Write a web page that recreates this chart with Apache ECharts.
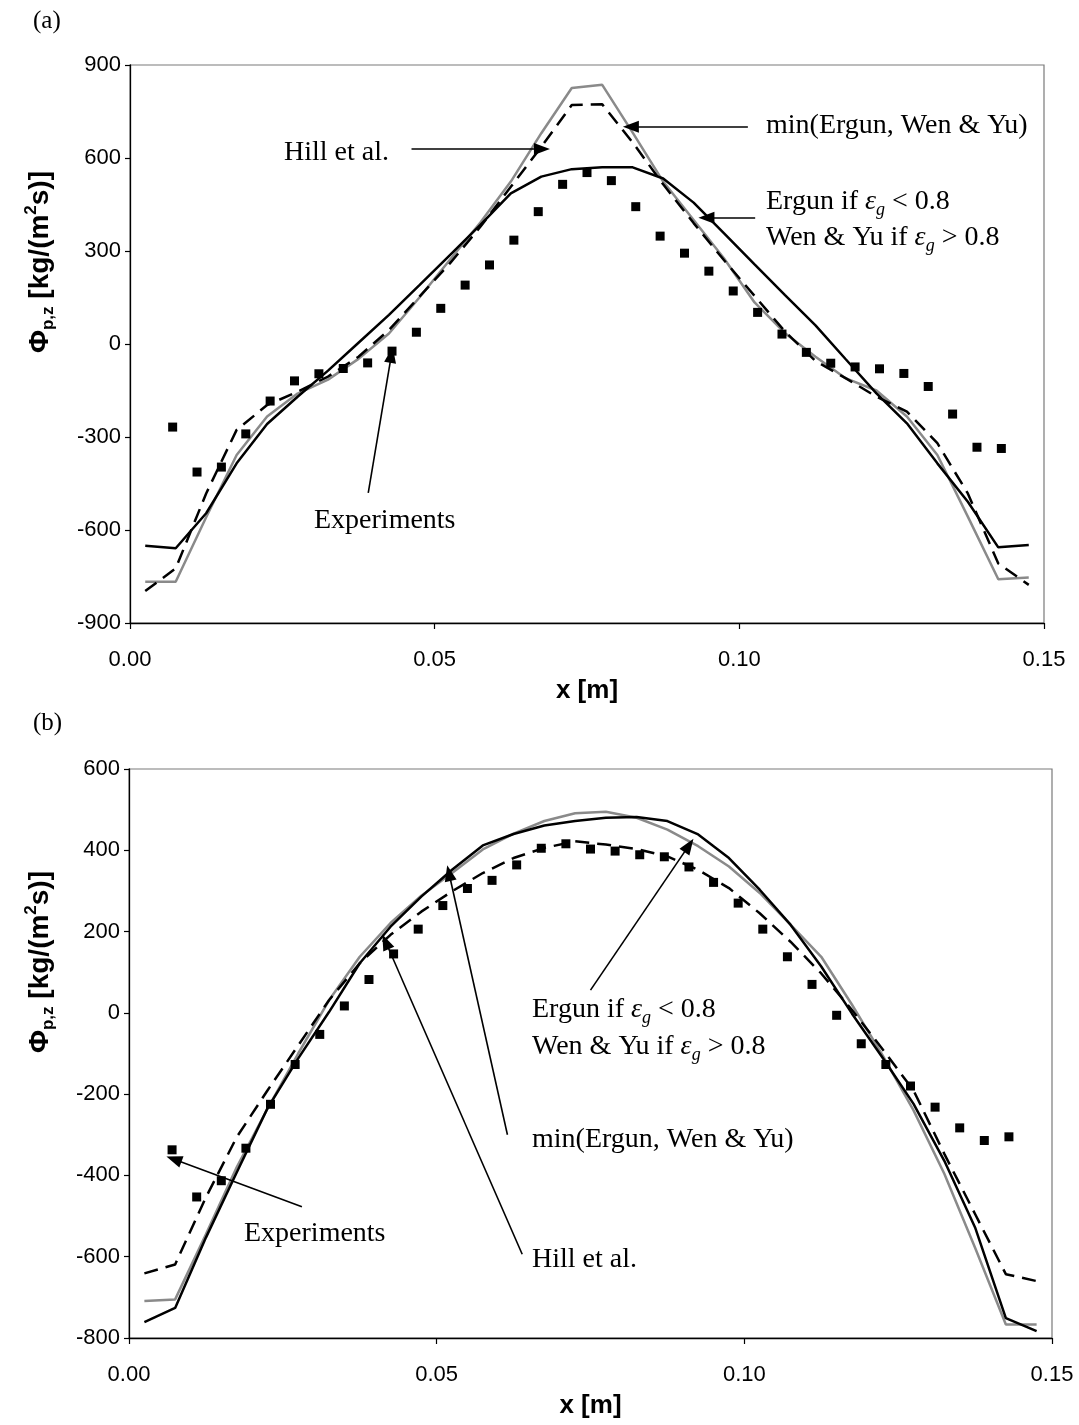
<!DOCTYPE html>
<html><head><meta charset="utf-8">
<script src="https://cdn.jsdelivr.net/npm/echarts@6/dist/echarts.min.js"></script>
<style>html,body{margin:0;padding:0;background:#fff}#c{width:1079px;height:1425px}</style>
</head><body><div id="c"></div>
<script>
// ---------- data ----------
const simX = [0.0025,0.0075,0.0125,0.0175,0.0225,0.0275,0.0325,0.0375,0.0425,0.0475,
  0.0525,0.0575,0.0625,0.0675,0.0725,0.0775,0.0825,0.0875,0.0925,0.0975,
  0.1025,0.1075,0.1125,0.1175,0.1225,0.1275,0.1325,0.1375,0.1425,0.1475];
const expX = [0.007,0.011,0.015,0.019,0.023,0.027,0.031,0.035,0.039,0.043,0.047,0.051,
  0.055,0.059,0.063,0.067,0.071,0.075,0.079,0.083,0.087,0.091,0.095,0.099,0.103,0.107,
  0.111,0.115,0.119,0.123,0.127,0.131,0.135,0.139,0.143];

// panel (a)
const switchA = [-651,-659,-546,-385,-258,-170,-86,4,94,190,287,384,486,540,564,
  570,570,534,456,357,257,158,60,-50,-159,-256,-385,-509,-656,-648];
const minA = [-767,-767,-559,-358,-234,-160,-115,-48,34,150,272,392,524,680,826,
  836,682,524,400,276,134,35,-41,-111,-150,-234,-358,-557,-759,-753];
const hillA = [-797,-724,-482,-277,-197,-154,-105,-41,45,153,260,378,507,636,771,
  773,650,515,390,270,155,40,-55,-111,-170,-218,-320,-482,-708,-777];
const expA = [-268,-413,-397,-290,-184,-119,-96,-79,-61,-23,38,115,190,255,335,427,515,553,
  527,443,348,293,235,171,102,32,-27,-62,-74,-80,-95,-137,-226,-333,-337];

// panel (b)
const switchB = [-761,-726,-553,-393,-235,-112,2,122,212,286,352,412,440,461,472,
  480,482,472,439,381,303,217,114,-2,-111,-224,-364,-528,-751,-783];
const minB = [-709,-705,-545,-380,-236,-100,31,138,221,288,344,402,441,472,491,
  495,480,451,410,360,295,217,138,20,-105,-240,-396,-578,-767,-767];
const hillB = [-641,-619,-454,-306,-191,-80,31,122,192,249,299,344,381,406,422,
  414,403,385,352,307,245,175,97,7,-90,-191,-347,-495,-643,-660];
const expB = [-337,-453,-413,-333,-225,-127,-53,17,82,145,206,264,306,326,364,405,416,403,
  398,389,384,359,321,270,206,138,70,-6,-76,-127,-180,-232,-283,-314,-305];

const xRange = [0, 0.15, 0.05];
const yRangeA = [-900, 900, 300];
const yRangeB = [-800, 600, 200];

// annotation arrows (data coordinates): [x1,y1,x2,y2], arrow head at second point
const arrowsA = [[0.0462,629,0.0676,629],[0.1014,701,0.0822,701],[0.1026,407,0.0946,407],[0.0391,-480,0.0429,-35]];
const arrowsB = [[0.0750,56,0.0910,412],[0.0615,-300,0.0520,344],[0.0639,-594,0.0417,175],[0.0281,-477,0.0073,-360]];

// ---------- chart ----------
const zip = (xs, ys) => xs.map((x, i) => [x, ys[i]]);
const SANS = "'Liberation Sans', Arial, sans-serif";
const SERIF = "'Liberation Serif', 'Times New Roman', serif";

function xAxisCfg(g) {
  return {
    gridIndex: g, type: 'value', min: xRange[0], max: xRange[1], interval: xRange[2],
    axisLine: { show: true, onZero: false, lineStyle: { color: '#000', width: 1.3 } },
    axisTick: { show: true, length: 6, lineStyle: { color: '#000', width: 1.2 } },
    axisLabel: { fontSize: 22, color: '#000', margin: 26, fontFamily: SANS, formatter: v => v.toFixed(2) },
    splitLine: { show: false },
    name: 'x [m]', nameLocation: 'middle', nameGap: 55,
    nameTextStyle: { fontSize: 26, fontWeight: 'bold', color: '#000', fontFamily: SANS }
  };
}
function yAxisCfg(g, r) {
  return {
    gridIndex: g, type: 'value', min: r[0], max: r[1], interval: r[2],
    axisLine: { show: true, onZero: false, lineStyle: { color: '#000', width: 1.3 } },
    axisTick: { show: true, length: 5, lineStyle: { color: '#000', width: 1.2 } },
    axisLabel: { fontSize: 22, color: '#000', margin: 9, fontFamily: SANS },
    splitLine: { show: false }
  };
}
function arrowLines(arr) {
  return {
    silent: true, animation: false,
    symbol: ['none', 'triangle'], symbolSize: [12, 16],
    lineStyle: { color: '#000', width: 1.6, type: 'solid' },
    label: { show: false }, emphasis: { disabled: true },
    data: arr.map(a => [{ coord: [a[0], a[1]] }, { coord: [a[2], a[3]] }])
  };
}
function seriesFor(g, sw, mn, hl, ex, arrows) {
  const base = { xAxisIndex: g, yAxisIndex: g, type: 'line', symbol: 'none', animation: false, silent: true };
  return [
    Object.assign({}, base, { name: 'min', data: zip(simX, mn), lineStyle: { color: '#8a8a8a', width: 2.5 }, z: 2 }),
    Object.assign({}, base, { name: 'switch', data: zip(simX, sw), lineStyle: { color: '#000', width: 2.5 }, z: 3 }),
    Object.assign({}, base, { name: 'hill', data: zip(simX, hl), lineStyle: { color: '#000', width: 2.5, type: [14, 8] }, z: 4 }),
    { xAxisIndex: g, yAxisIndex: g, type: 'scatter', name: 'exp', data: zip(expX, ex), symbol: 'rect', symbolSize: 9,
      itemStyle: { color: '#000', opacity: 1 }, animation: false, silent: true, z: 5, markLine: arrowLines(arrows) }
  ];
}

const richSerif = {
  r: { fontFamily: SERIF, fontSize: 28, lineHeight: 34, fill: '#000' },
  e: { fontFamily: SERIF, fontSize: 28, fontStyle: 'italic', lineHeight: 34, fill: '#000' },
  s: { fontFamily: SERIF, fontSize: 18, fontStyle: 'italic', lineHeight: 18, verticalAlign: 'bottom', fill: '#000' }
};
function serifText(x, y, txt) {
  return { type: 'text', x: x, y: y, silent: true,
    style: { text: txt, fontFamily: SERIF, fontSize: 28, fill: '#000', align: 'left', verticalAlign: 'middle', rich: richSerif } };
}
const ergun1 = '{r|Ergun if }{e|ε}{s|g}{r| < 0.8}';
const ergun2 = '{r|Wen & Yu if }{e|ε}{s|g}{r| > 0.8}';
function yTitle(x, y) {
  return { type: 'text', x: x, y: y, rotation: Math.PI / 2, silent: true,
    style: { text: '{t|Φ}{s|p,z}{t| [kg/(m}{p|2}{t|s)]}', align: 'center', verticalAlign: 'middle',
      fontFamily: SANS, fontSize: 28, fontWeight: 'bold', fill: '#000',
      rich: {
        t: { fontFamily: SANS, fontSize: 28, fontWeight: 'bold', lineHeight: 34, fill: '#000' },
        s: { fontFamily: SANS, fontSize: 17, fontWeight: 'bold', lineHeight: 17, verticalAlign: 'bottom', fill: '#000' },
        p: { fontFamily: SANS, fontSize: 17, fontWeight: 'bold', lineHeight: 17, verticalAlign: 'top', fill: '#000' }
      } } };
}
function panelLabel(x, y, t) {
  return { type: 'text', x: x, y: y, silent: true,
    style: { text: t, fontFamily: SERIF, fontSize: 25, fill: '#000', align: 'left', verticalAlign: 'middle' } };
}

const chart = echarts.init(document.getElementById('c'), null, { renderer: 'canvas' });
chart.setOption({
  backgroundColor: '#fff',
  animation: false,
  grid: [
    { left: 130, top: 65, width: 914, height: 558, show: true, borderColor: '#7a7a7a', borderWidth: 1.2, backgroundColor: 'transparent' },
    { left: 129, top: 769, width: 923, height: 569, show: true, borderColor: '#7a7a7a', borderWidth: 1.2, backgroundColor: 'transparent' }
  ],
  xAxis: [xAxisCfg(0), xAxisCfg(1)],
  yAxis: [yAxisCfg(0, yRangeA), yAxisCfg(1, yRangeB)],
  series: [].concat(
    seriesFor(0, switchA, minA, hillA, expA, arrowsA),
    seriesFor(1, switchB, minB, hillB, expB, arrowsB)
  ),
  graphic: [
    panelLabel(33, 21, '(a)'),
    panelLabel(33, 723, '(b)'),
    yTitle(40, 262),
    yTitle(40, 962),
    serifText(284, 153, '{r|Hill et al.}'),
    serifText(766, 126, '{r|min(Ergun, Wen & Yu)}'),
    serifText(766, 202, ergun1),
    serifText(766, 238, ergun2),
    serifText(314, 521, '{r|Experiments}'),
    serifText(532, 1010, ergun1),
    serifText(532, 1047, ergun2),
    serifText(532, 1140, '{r|min(Ergun, Wen & Yu)}'),
    serifText(532, 1260, '{r|Hill et al.}'),
    serifText(244, 1234, '{r|Experiments}')
  ]
});
</script>
</body></html>
